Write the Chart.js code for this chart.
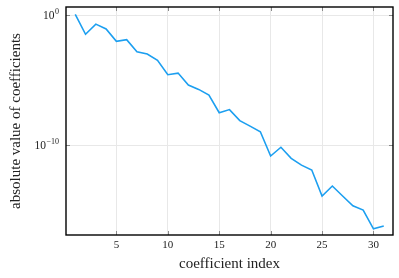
<!DOCTYPE html>
<html>
<head>
<meta charset="utf-8">
<script src="https://cdn.jsdelivr.net/npm/chart.js@4.4.1/dist/chart.umd.min.js"></script>
<style>
  html, body { margin: 0; padding: 0; background: #fff; }
  #wrap { width: 399px; height: 278px; }
</style>
</head>
<body>
<div id="wrap"><canvas id="c" width="399" height="278"></canvas></div>
<script>
const coefficientIndex = [1,2,3,4,5,6,7,8,9,10,11,12,13,14,15,16,17,18,19,20,21,22,23,24,25,26,27,28,29,30,31];
const coefficientValues = [
  1.2, 3.5e-2, 2.1e-1, 8.9e-2, 1.0e-2, 1.35e-2, 1.6e-3, 1.05e-3, 3.5e-4, 2.7e-5,
  3.6e-5, 4.3e-6, 2.0e-6, 7.4e-7, 3.2e-8, 5.6e-8, 7.9e-9, 3.0e-9, 1.1e-9, 1.5e-11,
  7.1e-11, 1.0e-11, 3.0e-12, 1.26e-12, 1.26e-14, 7.4e-14, 1.26e-14, 2.2e-15, 1.05e-15, 3.8e-17,
  6.3e-17
];
const xTickValues = [5, 10, 15, 20, 25, 30];
const yTickValues = [1e-10, 1];
const yTickBase = ['10', '10'];
const yTickExp = ['\u221210', '0'];
const xTitle = 'coefficient index';
const yTitle = 'absolute value of coefficients';

const SERIF = '"Liberation Serif", "DejaVu Serif", serif';

const frame = {
  id: 'frame',
  afterDraw(chart) {
    const ctx = chart.ctx;
    const a = chart.chartArea;
    const xs = chart.scales.x, ys = chart.scales.y;
    ctx.save();
    ctx.strokeStyle = '#8a8a8a';
    ctx.lineWidth = 1;
    const tl = 4;
    xTickValues.forEach(v => {
      const px = Math.round(xs.getPixelForValue(v)) + 0.5;
      ctx.beginPath();
      ctx.moveTo(px, a.bottom); ctx.lineTo(px, a.bottom - tl);
      ctx.moveTo(px, a.top); ctx.lineTo(px, a.top + tl);
      ctx.stroke();
    });
    yTickValues.forEach(v => {
      const py = Math.round(ys.getPixelForValue(v)) + 0.5;
      ctx.beginPath();
      ctx.moveTo(a.left, py); ctx.lineTo(a.left + tl, py);
      ctx.moveTo(a.right, py); ctx.lineTo(a.right - tl, py);
      ctx.stroke();
    });
    ctx.strokeStyle = '#000';
    ctx.lineWidth = 1.4;
    ctx.strokeRect(a.left, a.top, a.right - a.left, a.bottom - a.top);
    ctx.fillStyle = '#222';
    ctx.textBaseline = 'alphabetic';
    yTickValues.forEach((v, i) => {
      const py = ys.getPixelForValue(v);
      const rightEdge = a.left - 7;
      ctx.font = '8px ' + SERIF;
      const ew = ctx.measureText(yTickExp[i]).width;
      ctx.textAlign = 'right';
      ctx.fillText(yTickExp[i], rightEdge, py - 1);
      ctx.font = '11.5px ' + SERIF;
      ctx.fillText(yTickBase[i], rightEdge - ew - 0.5, py + 4);
    });
    ctx.restore();
  }
};

new Chart(document.getElementById('c'), {
  type: 'line',
  data: {
    datasets: [{
      data: coefficientIndex.map((x, i) => ({ x: x, y: coefficientValues[i] })),
      borderColor: '#1c9ff0',
      borderWidth: 1.6,
      pointRadius: 0,
      fill: false,
      tension: 0
    }]
  },
  options: {
    responsive: false,
    animation: false,
    devicePixelRatio: 1,
    layout: { padding: { left: 0, top: 7, right: 6, bottom: 0 } },
    plugins: { legend: { display: false }, tooltip: { enabled: false } },
    scales: {
      x: {
        type: 'linear',
        min: 0.1,
        max: 31.9,
        afterBuildTicks(s) { s.ticks = xTickValues.map(v => ({ value: v })); },
        afterFit(s) { s.height = 43; },
        grid: { color: '#e8e8e8', lineWidth: 1, drawTicks: false },
        border: { display: false },
        ticks: { color: '#222', font: { family: SERIF, size: 11 }, padding: 4, maxRotation: 0 },
        title: { display: true, text: xTitle, color: '#222', font: { family: SERIF, size: 15 }, padding: { top: 4, bottom: 5 } }
      },
      y: {
        type: 'logarithmic',
        min: 1.26e-17,
        max: 4.37,
        afterBuildTicks(s) { s.ticks = yTickValues.map(v => ({ value: v })); },
        afterFit(s) { s.width = 66; },
        grid: { color: '#e8e8e8', lineWidth: 1, drawTicks: false },
        border: { display: false },
        ticks: { display: false },
        title: { display: true, text: yTitle, color: '#222', font: { family: SERIF, size: 15 }, padding: { top: 7, bottom: 4 } }
      }
    }
  },
  plugins: [frame]
});
</script>
</body>
</html>
